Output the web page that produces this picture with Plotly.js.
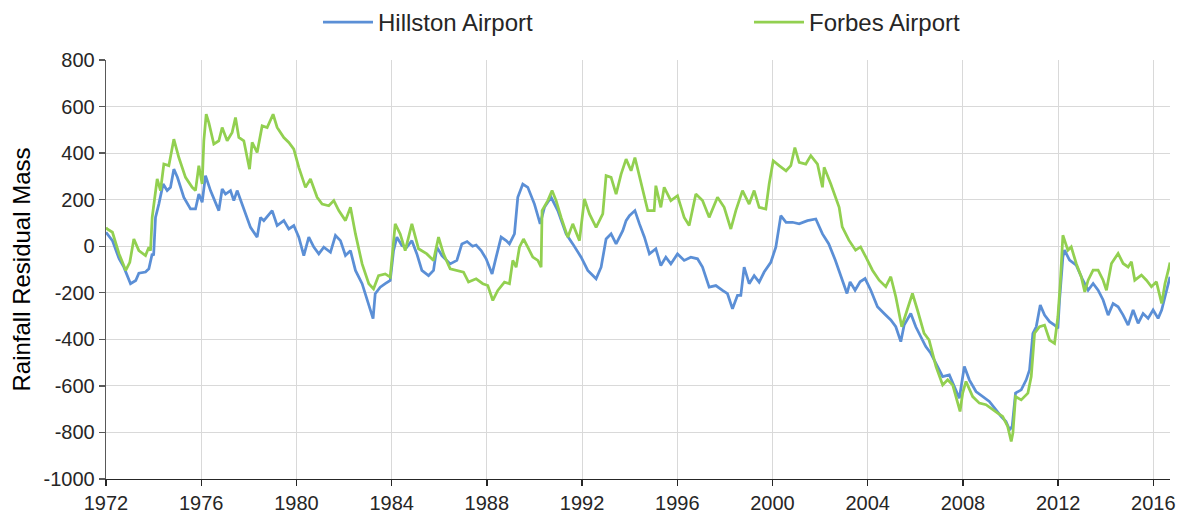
<!DOCTYPE html>
<html>
<head>
<meta charset="utf-8">
<script src="https://cdn.plot.ly/plotly-3.0.1.min.js"></script>
<style>
html,body{margin:0;padding:0;background:#fff;}
#chart{width:1183px;height:514px;}
</style>
</head>
<body>
<div id="chart"></div>
<script>
const seriesNames = ["Hillston Airport", "Forbes Airport"];
const tickYears = [1972, 1976, 1980, 1984, 1988, 1992, 1996, 2000, 2004, 2008, 2012, 2016];
const tickValuesY = [-1000, -800, -600, -400, -200, 0, 200, 400, 600, 800];

const hillstonX = [1972.0,1972.05,1972.27,1972.55,1972.75,1973.03,1973.25,1973.38,1973.66,1973.8,1973.94,1974.0,1974.08,1974.22,1974.4,1974.57,1974.71,1974.85,1975.0,1975.27,1975.55,1975.76,1975.9,1976.04,1976.18,1976.39,1976.74,1976.88,1977.02,1977.23,1977.37,1977.51,1977.72,1978.07,1978.35,1978.49,1978.63,1978.98,1979.19,1979.47,1979.68,1979.89,1980.1,1980.31,1980.52,1980.73,1980.94,1981.15,1981.43,1981.64,1981.85,1982.06,1982.27,1982.48,1982.76,1983.04,1983.22,1983.31,1983.52,1983.73,1983.94,1984.08,1984.22,1984.43,1984.64,1984.85,1985.06,1985.27,1985.55,1985.76,1985.9,1986.11,1986.46,1986.74,1986.95,1987.17,1987.4,1987.55,1987.76,1987.97,1988.22,1988.39,1988.6,1988.81,1988.95,1989.16,1989.3,1989.51,1989.72,1990.0,1990.24,1990.42,1990.7,1990.98,1991.33,1991.61,1991.96,1992.24,1992.59,1992.8,1993.01,1993.22,1993.43,1993.71,1993.85,1993.99,1994.22,1994.41,1994.62,1994.83,1995.1,1995.31,1995.52,1995.73,1996.01,1996.29,1996.57,1996.85,1997.06,1997.34,1997.62,1997.9,1998.11,1998.32,1998.53,1998.67,1998.81,1999.02,1999.23,1999.44,1999.65,1999.93,2000.14,2000.35,2000.57,2000.84,2001.12,2001.47,2001.82,2002.1,2002.36,2002.64,2002.92,2003.13,2003.26,2003.47,2003.68,2003.89,2004.13,2004.41,2004.69,2004.97,2005.18,2005.39,2005.53,2005.81,2006.02,2006.3,2006.44,2006.65,2006.87,2007.15,2007.43,2007.64,2007.85,2008.06,2008.27,2008.55,2008.83,2009.11,2009.39,2009.6,2009.81,2009.96,2010.07,2010.21,2010.45,2010.66,2010.8,2010.94,2011.08,2011.25,2011.43,2011.64,2011.85,2011.99,2012.06,2012.2,2012.27,2012.48,2012.76,2013.04,2013.26,2013.47,2013.68,2013.89,2014.1,2014.31,2014.52,2014.73,2014.94,2015.15,2015.36,2015.57,2015.78,2015.99,2016.2,2016.35,2016.49,2016.63,2016.7];
const hillstonY = [60,53,24,-54,-90,-161,-147,-116,-111,-97,-33,-40,124,181,267,239,253,331,296,210,160,160,224,189,303,239,153,246,224,239,196,239,181,81,39,124,110,153,89,110,74,89,39,-40,39,-4,-33,-4,-26,46,24,-40,-19,-104,-161,-247,-311,-204,-176,-161,-147,-19,39,3,-4,24,-33,-104,-126,-104,-4,-40,-76,-61,10,20,0,5,-19,-54,-119,-47,39,24,10,53,210,267,253,181,96,167,210,153,53,10,-47,-104,-140,-90,31,53,10,67,110,131,153,96,39,-33,-11,-83,-47,-76,-33,-61,-47,-54,-90,-176,-169,-190,-204,-269,-211,-211,-90,-161,-126,-154,-111,-69,-4,131,103,103,96,110,117,53,11,-60,-146,-203,-153,-189,-153,-139,-189,-260,-289,-317,-346,-410,-339,-289,-346,-403,-431,-460,-503,-560,-553,-603,-653,-517,-574,-624,-646,-667,-703,-731,-753,-789,-774,-631,-617,-574,-531,-374,-346,-253,-296,-324,-339,-353,-231,-46,-17,-60,-81,-146,-189,-160,-189,-231,-296,-246,-260,-296,-339,-274,-331,-289,-310,-274,-310,-274,-217,-160,-131];

const forbesX = [1972.0,1972.05,1972.27,1972.55,1972.83,1973.0,1973.17,1973.38,1973.66,1973.8,1973.87,1973.94,1974.15,1974.29,1974.43,1974.64,1974.85,1975.06,1975.34,1975.62,1975.76,1975.9,1976.04,1976.11,1976.21,1976.32,1976.53,1976.74,1976.88,1977.09,1977.3,1977.44,1977.58,1977.79,1978.03,1978.14,1978.35,1978.56,1978.77,1979.02,1979.19,1979.47,1979.68,1979.89,1980.1,1980.38,1980.59,1980.87,1981.08,1981.36,1981.57,1981.78,1982.06,1982.27,1982.48,1982.76,1983.04,1983.24,1983.45,1983.73,1983.94,1984.15,1984.36,1984.57,1984.85,1985.13,1985.48,1985.76,1985.97,1986.18,1986.46,1986.74,1987.02,1987.23,1987.55,1987.83,1988.04,1988.25,1988.46,1988.74,1988.95,1989.09,1989.23,1989.37,1989.54,1989.72,1989.93,1990.14,1990.28,1990.32,1990.56,1990.74,1990.91,1991.12,1991.4,1991.61,1991.89,1992.1,1992.31,1992.59,1992.87,1993.01,1993.22,1993.43,1993.64,1993.85,1994.06,1994.22,1994.48,1994.76,1995.03,1995.1,1995.31,1995.45,1995.73,1996.01,1996.29,1996.5,1996.78,1997.06,1997.34,1997.69,1997.97,1998.25,1998.46,1998.74,1999.02,1999.23,1999.44,1999.72,1999.86,2000.03,2000.28,2000.57,2000.77,2000.94,2001.12,2001.4,2001.61,2001.89,2002.1,2002.17,2002.45,2002.8,2002.93,2003.21,2003.49,2003.7,2003.92,2004.2,2004.48,2004.76,2004.97,2005.18,2005.43,2005.6,2005.88,2006.09,2006.37,2006.58,2006.87,2007.15,2007.36,2007.57,2007.71,2007.88,2007.99,2008.13,2008.41,2008.69,2008.97,2009.25,2009.46,2009.67,2009.88,2010.03,2010.1,2010.21,2010.45,2010.73,2010.87,2011.01,2011.22,2011.43,2011.64,2011.85,2011.99,2012.09,2012.2,2012.41,2012.55,2012.76,2012.97,2013.12,2013.26,2013.47,2013.68,2013.89,2014.03,2014.24,2014.52,2014.73,2014.94,2015.08,2015.22,2015.5,2015.71,2015.92,2016.13,2016.35,2016.49,2016.63,2016.7];
const forbesY = [80,74,60,-33,-104,-69,31,-19,-40,-4,-19,124,289,239,353,346,460,381,296,253,239,346,267,453,567,531,439,453,510,453,489,553,467,453,331,446,403,517,510,567,510,467,446,417,339,253,289,210,181,174,196,153,110,167,53,-76,-161,-183,-126,-119,-133,96,53,-19,96,-11,-33,-61,39,-33,-97,-104,-111,-154,-140,-161,-169,-233,-190,-154,-161,-61,-90,-4,31,-4,-47,-61,-90,153,196,239,196,124,39,96,24,203,139,81,139,303,296,224,310,374,324,381,267,153,153,260,167,253,196,217,124,89,224,196,124,210,167,74,153,239,181,239,167,160,267,367,346,324,346,424,360,353,389,353,253,339,267,167,83,26,-17,-3,-46,-103,-146,-174,-131,-217,-346,-289,-203,-274,-374,-403,-517,-596,-574,-596,-646,-710,-631,-581,-646,-674,-681,-703,-717,-731,-774,-839,-803,-646,-660,-631,-560,-374,-346,-339,-403,-417,-303,-160,47,-17,-3,-74,-131,-196,-146,-103,-103,-146,-189,-74,-31,-74,-89,-67,-146,-124,-146,-174,-153,-246,-160,-103,-70];

const FONT = "Liberation Sans, Arial, sans-serif";

const traces = [
  {x: hillstonX, y: hillstonY, name: seriesNames[0], type: "scatter", mode: "lines",
   line: {color: "#5b8fd6", width: 2.75}},
  {x: forbesX, y: forbesY, name: seriesNames[1], type: "scatter", mode: "lines",
   line: {color: "#92d050", width: 2.75}}
];

const layout = {
  width: 1183, height: 514,
  margin: {l: 106, r: 13, t: 60, b: 35, pad: 0},
  paper_bgcolor: "#ffffff", plot_bgcolor: "#ffffff",
  font: {family: FONT, color: "#262626", size: 16},
  showlegend: true,
  legend: {orientation: "h", xref: "container", yref: "container", x: 0.2688, y: 1.0,
           xanchor: "left", yanchor: "top", entrywidth: 366, entrywidthmode: "pixels",
           itemwidth: 50,
           font: {family: FONT, size: 24, color: "#262626"}, bgcolor: "rgba(0,0,0,0)"},
  xaxis: {type: "linear", range: [1972, 2016.7], tickmode: "array", tickvals: tickYears,
          ticktext: tickYears.map(String),
          showgrid: true, gridcolor: "#d9d9d9", gridwidth: 1, zeroline: false,
          showline: true, linecolor: "#262626", linewidth: 1.3,
          ticks: "outside", ticklen: 6, tickcolor: "#262626", tickwidth: 1.3,
          tickfont: {family: FONT, size: 20, color: "#262626"}, fixedrange: true},
  yaxis: {range: [-1000, 800], tickmode: "array", tickvals: tickValuesY,
          ticktext: tickValuesY.map(String),
          showgrid: true, gridcolor: "#d9d9d9", gridwidth: 1, zeroline: false,
          showline: true, linecolor: "#595959", linewidth: 1.3,
          ticks: "outside", ticklen: 6, tickcolor: "#595959", tickwidth: 1.3,
          tickfont: {family: FONT, size: 20, color: "#262626"},
          title: {text: "Rainfall Residual Mass", standoff: 6,
                  font: {family: FONT, size: 24, color: "#000000"}}, fixedrange: true}
};

Plotly.newPlot("chart", traces, layout, {displayModeBar: false, staticPlot: true});
</script>
</body>
</html>
